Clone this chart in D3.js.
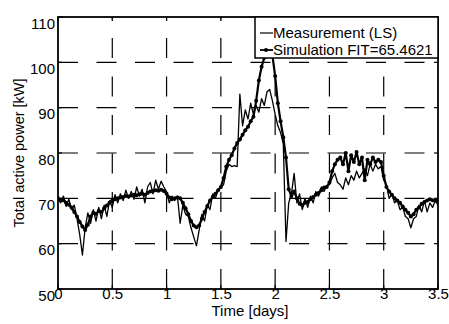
<!DOCTYPE html>
<html>
<head>
<meta charset="utf-8">
<script src="https://cdn.jsdelivr.net/npm/d3@7"></script>
<style>
	html, body { margin: 0; padding: 0; background: #fff; }
	svg { display: block; }
</style>
</head>
<body>
<div id="chart"></div>
<script>
////////// Data //////////
// samples every 0.025 day (36 min), t = 0 .. 3.5
const sampleStepDays = 0.025;

const measurement = [
	70.2, 69.0, 70.5, 68.2, 69.8, 67.5, 68.5, 65.5, 62.0, 57.5,
	63.5, 66.8, 64.5, 67.5, 65.0, 68.0, 65.5, 68.5, 66.0, 69.5,
	68.0, 70.8, 69.0, 71.0, 69.5, 71.8, 70.0, 71.5, 69.8, 72.5,
	70.5, 72.0, 69.0, 72.5, 73.5, 71.0, 74.0, 72.0, 73.8, 72.5,
	71.5, 69.0, 70.5, 69.5, 70.5, 64.5, 68.5, 66.5, 66.0, 63.5,
	61.5, 59.5, 63.0, 66.5, 65.0, 68.5, 67.5, 71.0, 70.0, 72.0,
	72.5, 73.0, 76.0, 77.5, 77.0, 77.2, 77.0, 93.0, 86.0, 89.5,
	87.5, 91.0, 88.5, 90.5, 89.0, 92.0, 90.5, 93.5, 94.0, 91.5,
	88.5, 86.0, 84.5, 82.0, 60.5, 69.0, 71.0, 75.5, 69.0, 71.0,
	67.5, 70.0, 68.0, 70.5, 69.0, 71.5, 70.5, 72.5, 71.5, 72.8,
	73.0, 74.5, 75.5, 73.5, 73.0, 72.0, 74.5, 73.0, 75.0, 74.0,
	76.0, 74.5, 75.5, 76.5, 75.0, 77.5, 76.0, 77.5, 76.5, 77.0,
	74.0, 73.0, 70.0, 71.0, 69.0, 69.5, 67.5, 68.0, 66.0, 65.5,
	63.5, 65.5, 66.0, 68.5, 67.0, 69.5, 67.0, 69.0, 68.0, 69.5,
	68.5
];

const simulation = [
	70.0, 69.5, 69.6, 69.0, 68.6, 68.0, 67.0, 66.0, 64.8, 63.8,
	63.0, 64.2, 66.0, 66.8, 66.6, 67.2, 67.0, 67.8, 68.4, 69.0,
	69.5, 69.8, 70.0, 70.2, 70.3, 70.5, 70.4, 70.6, 70.8, 70.7,
	70.9, 71.0, 70.8, 71.2, 71.5, 71.6, 71.8, 71.7, 71.9, 71.6,
	71.0, 70.2, 69.8, 70.0, 70.2, 70.0, 69.0, 67.8, 66.5, 65.0,
	64.0, 63.6, 64.0, 65.5, 67.0, 68.3, 69.5, 70.3, 71.0, 71.8,
	72.5, 74.5, 77.0, 78.5, 79.5, 81.0, 82.2, 83.0, 84.0, 85.0,
	85.8, 87.0, 88.0, 91.5, 96.0, 99.0, 101.0, 102.0, 103.0, 101.5,
	97.0, 91.0, 87.0, 83.5, 79.0, 72.0, 70.5, 71.5, 70.0, 68.8,
	68.5, 69.0, 69.2, 69.8, 70.3, 70.8, 71.2, 71.8, 72.4, 72.5,
	73.5, 76.0, 77.5, 78.5, 79.0, 77.5, 80.0, 76.0, 79.5, 78.0,
	80.2, 77.5, 79.0, 74.0, 78.5, 77.5, 79.0, 78.0, 78.5, 78.0,
	75.0, 72.5, 71.5, 70.8, 70.0, 69.5, 69.0, 68.2, 67.5, 66.8,
	66.0, 66.5, 67.5, 68.0, 68.8, 69.2, 69.5, 69.8, 69.6, 69.5,
	69.6
];

const xTicks = [0, 0.5, 1, 1.5, 2, 2.5, 3, 3.5];
const yTicks = [50, 60, 70, 80, 90, 100, 110];
const legendLabels = ['Measurement (LS)', 'Simulation FIT=65.4621'];

////////// Layout //////////
const width = 449;
const height = 324;
const plot = { left: 58, right: 438, top: 17, bottom: 289 };
const font = '"Liberation Sans", Arial, Helvetica, sans-serif';
const fontSize = 15;
const tickLen = 4;
const gridDash = '20,18.5';

const svg = d3.select('#chart').append('svg')
	.attr('width', width)
	.attr('height', height)
	.style('font-family', font)
	.style('font-size', fontSize + 'px')
	.attr('fill', '#000');

svg.append('rect').attr('width', width).attr('height', height).attr('fill', '#fff');

const x = d3.scaleLinear().domain([0, 3.5]).range([plot.left, plot.right]);
const y = d3.scaleLinear().domain([50, 110]).range([plot.bottom, plot.top]);

const timeOf = i => i * sampleStepDays;

////////// Grid //////////
const grid = svg.append('g').attr('class', 'grid')
	.attr('stroke', '#000')
	.attr('stroke-width', 1.2)
	.attr('stroke-dasharray', gridDash);

// vertical grid lines are drawn bottom -> top, horizontal ones left -> right
grid.selectAll('.vgrid')
	.data(xTicks.slice(1, -1))
	.enter().append('line')
		.attr('class', 'vgrid')
		.attr('x1', d => x(d)).attr('x2', d => x(d))
		.attr('y1', plot.bottom).attr('y2', plot.top);

grid.selectAll('.hgrid')
	.data(yTicks.slice(1, -1))
	.enter().append('line')
		.attr('class', 'hgrid')
		.attr('y1', d => y(d)).attr('y2', d => y(d))
		.attr('x1', plot.left).attr('x2', plot.right);

////////// Data lines //////////
svg.append('clipPath').attr('id', 'plotClip')
	.append('rect')
		.attr('x', plot.left).attr('y', plot.top)
		.attr('width', plot.right - plot.left).attr('height', plot.bottom - plot.top);

const lineGen = d3.line()
	.x((d, i) => x(timeOf(i)))
	.y(d => y(d));

const dataGroup = svg.append('g').attr('clip-path', 'url(#plotClip)');

dataGroup.append('path')
	.datum(measurement)
	.attr('fill', 'none')
	.attr('stroke', '#000')
	.attr('stroke-width', 1.3)
	.attr('stroke-linejoin', 'round')
	.attr('d', lineGen);

dataGroup.append('path')
	.datum(simulation)
	.attr('fill', 'none')
	.attr('stroke', '#000')
	.attr('stroke-width', 2.2)
	.attr('stroke-linejoin', 'round')
	.attr('d', lineGen);

dataGroup.selectAll('.simDot')
	.data(simulation)
	.enter().append('circle')
		.attr('class', 'simDot')
		.attr('cx', (d, i) => x(timeOf(i)))
		.attr('cy', d => y(d))
		.attr('r', 2)
		.attr('fill', '#000');

////////// Axes box, ticks & labels //////////
const axes = svg.append('g').attr('class', 'axes');

axes.append('rect')
	.attr('x', plot.left).attr('y', plot.top)
	.attr('width', plot.right - plot.left).attr('height', plot.bottom - plot.top)
	.attr('fill', 'none')
	.attr('stroke', '#000')
	.attr('stroke-width', 1.8);

const bottomAxis = d3.axisBottom(x).tickValues(xTicks).tickSize(0).tickPadding(0).tickFormat(d3.format('~g'));
const leftAxis = d3.axisLeft(y).tickValues(yTicks).tickSize(0).tickPadding(0).tickFormat(d3.format('d'));

const xAxisG = axes.append('g')
	.attr('transform', `translate(0, ${plot.bottom})`)
	.call(bottomAxis);
xAxisG.select('.domain').remove();
xAxisG.selectAll('text')
	.attr('y', 10)
	.attr('dy', null)
	.attr('fill', '#000')
	.style('font-family', font)
	.style('font-size', fontSize + 'px');

const yAxisG = axes.append('g')
	.attr('transform', `translate(${plot.left}, 0)`)
	.call(leftAxis);
yAxisG.select('.domain').remove();
yAxisG.selectAll('text')
	.attr('x', -3)
	.attr('dy', '0.75em')
	.attr('fill', '#000')
	.style('font-family', font)
	.style('font-size', fontSize + 'px');

// inward tick marks on all four sides
const tickGroup = axes.append('g').attr('stroke', '#000').attr('stroke-width', 1.2);
xTicks.forEach(t => {
	tickGroup.append('line').attr('x1', x(t)).attr('x2', x(t)).attr('y1', plot.bottom).attr('y2', plot.bottom - tickLen);
	tickGroup.append('line').attr('x1', x(t)).attr('x2', x(t)).attr('y1', plot.top).attr('y2', plot.top + tickLen);
});
yTicks.forEach(v => {
	tickGroup.append('line').attr('y1', y(v)).attr('y2', y(v)).attr('x1', plot.left).attr('x2', plot.left + tickLen);
	tickGroup.append('line').attr('y1', y(v)).attr('y2', y(v)).attr('x1', plot.right).attr('x2', plot.right - tickLen);
});

svg.append('text')
	.attr('x', (plot.left + plot.right) / 2 + 2)
	.attr('y', 316)
	.attr('text-anchor', 'middle')
	.attr('fill', '#000')
	.text('Time [days]');

svg.append('text')
	.attr('transform', `translate(24, ${(plot.top + plot.bottom) / 2}) rotate(-90)`)
	.attr('text-anchor', 'middle')
	.attr('fill', '#000')
	.style('font-size', '14.5px')
	.text('Total active power [kW]');

////////// Legend //////////
const legend = svg.append('g').attr('class', 'legend');
const legendBox = { x: 255, y: plot.top, w: plot.right - 255, h: 41 };

legend.append('rect')
	.attr('x', legendBox.x).attr('y', legendBox.y)
	.attr('width', legendBox.w).attr('height', legendBox.h)
	.attr('fill', '#fff')
	.attr('stroke', '#000')
	.attr('stroke-width', 1.5);

const rows = legend.selectAll('.legendRow')
	.data(legendLabels)
	.enter().append('g')
		.attr('class', 'legendRow')
		.attr('transform', (d, i) => `translate(${legendBox.x}, ${legendBox.y + 16 + i * 17})`);

rows.append('line')
	.attr('x1', 5).attr('x2', 18)
	.attr('y1', 0).attr('y2', 0)
	.attr('stroke', '#000')
	.attr('stroke-width', (d, i) => i === 0 ? 1.2 : 1.8);

rows.filter((d, i) => i === 1).append('circle')
	.attr('cx', 11).attr('cy', 0).attr('r', 2).attr('fill', '#000');

rows.append('text')
	.attr('x', 18)
	.attr('y', 5)
	.attr('fill', '#000')
	.text(d => d);
</script>
</body>
</html>
